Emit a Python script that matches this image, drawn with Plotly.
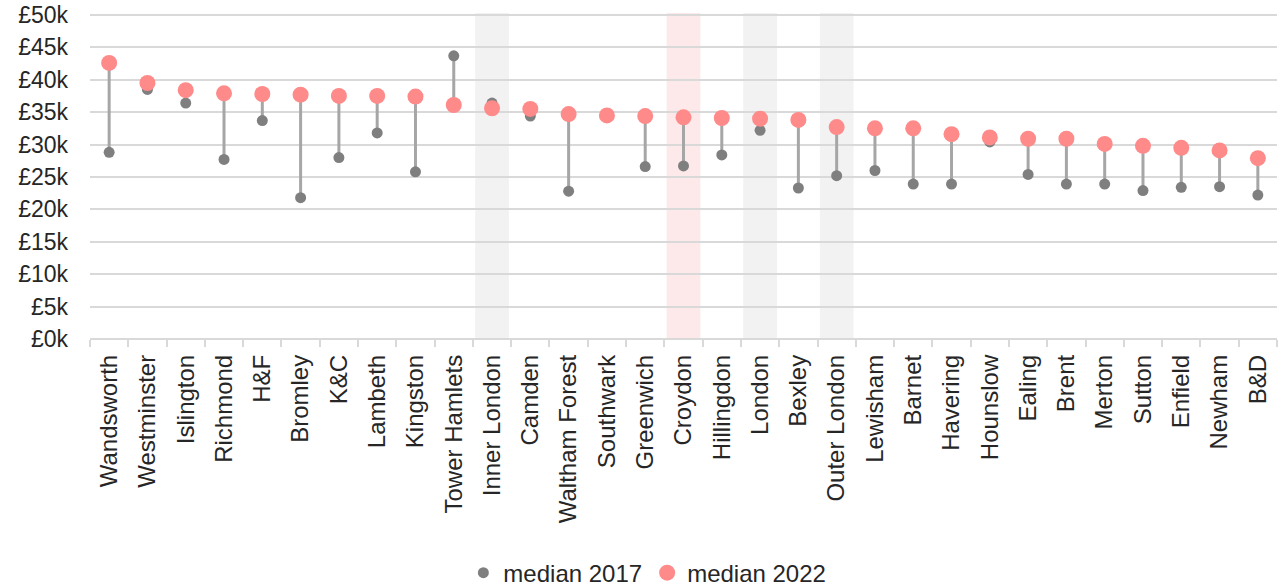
import plotly.graph_objects as go

# Boroughs and aggregates, ordered by 2022 median (in £ thousands)
areas = [
    "Wandsworth", "Westminster", "Islington", "Richmond", "H&F", "Bromley",
    "K&C", "Lambeth", "Kingston", "Tower Hamlets", "Inner London", "Camden",
    "Waltham Forest", "Southwark", "Greenwich", "Croydon", "Hillingdon",
    "London", "Bexley", "Outer London", "Lewisham", "Barnet", "Havering",
    "Hounslow", "Ealing", "Brent", "Merton", "Sutton", "Enfield", "Newham", "B&D",
]
median_2017 = [
    28.8, 38.5, 36.4, 27.7, 33.7, 21.8,
    28.0, 31.8, 25.8, 43.7, 36.4, 34.4,
    22.8, 34.4, 26.6, 26.7, 28.4,
    32.2, 23.3, 25.2, 26.0, 23.9, 23.9,
    30.4, 25.4, 23.9, 23.9, 22.9, 23.4, 23.5, 22.2,
]
median_2022 = [
    42.6, 39.5, 38.4, 37.9, 37.8, 37.7,
    37.5, 37.5, 37.4, 36.1, 35.6, 35.5,
    34.7, 34.5, 34.4, 34.2, 34.1,
    34.0, 33.8, 32.7, 32.5, 32.5, 31.6,
    31.1, 30.9, 30.9, 30.1, 29.8, 29.5, 29.1, 27.9,
]
grey_bands = ["Inner London", "London", "Outer London"]
pink_bands = ["Croydon"]
y_ticks = [0, 5, 10, 15, 20, 25, 30, 35, 40, 45, 50]

FONT = "Liberation Sans, Arial, sans-serif"
TEXT = "#262626"

# Connector segments between the two years
seg_x, seg_y = [], []
for a, v17, v22 in zip(areas, median_2017, median_2022):
    seg_x += [a, a, None]
    seg_y += [v17, v22, None]

fig = go.Figure()
fig.add_trace(go.Scatter(
    x=seg_x, y=seg_y, mode="lines",
    line=dict(color="#a6a6a6", width=3),
    showlegend=False, hoverinfo="skip",
))
fig.add_trace(go.Scatter(
    x=areas, y=median_2017, mode="markers", name="median 2017",
    marker=dict(color="#7f7f7f", size=11),
))
fig.add_trace(go.Scatter(
    x=areas, y=median_2022, mode="markers", name="median 2022",
    marker=dict(color="#ff8a8a", size=16),
))

# Highlight bands behind selected categories
shapes = []
for names, colour in ((grey_bands, "#f2f2f2"), (pink_bands, "#fde9e9")):
    for n in names:
        i = areas.index(n)
        shapes.append(dict(
            type="rect", xref="x", yref="y",
            x0=i - 0.44, x1=i + 0.44, y0=0, y1=50.3,
            fillcolor=colour, line=dict(width=0), layer="below",
        ))

fig.update_layout(
    width=1280, height=586,
    margin=dict(l=90, r=3, t=13, b=247),
    paper_bgcolor="white", plot_bgcolor="white",
    font=dict(family=FONT, size=24, color=TEXT),
    shapes=shapes,
    showlegend=True,
    legend=dict(
        orientation="h", xref="container", yref="container",
        x=0.362, xanchor="left", y=0.022, yanchor="middle",
        font=dict(size=24, color=TEXT), itemwidth=30,
        bgcolor="rgba(0,0,0,0)", borderwidth=0,
    ),
    xaxis=dict(
        type="category", categoryorder="array", categoryarray=areas,
        range=[-0.5, len(areas) - 0.5], automargin=False,
        tickangle=-90, tickson="boundaries", ticks="outside",
        ticklen=7, tickcolor="#d9d9d9", tickwidth=1.5,
        ticklabelstandoff=10,
        showgrid=False, showline=False, zeroline=False,
        tickfont=dict(size=24, color=TEXT),
    ),
    yaxis=dict(
        range=[0, 50.3], tickvals=y_ticks, automargin=False,
        ticktext=[f"£{v}k" for v in y_ticks],
        showgrid=True, gridcolor="#d9d9d9", gridwidth=1.8,
        zeroline=True, zerolinecolor="#d9d9d9", zerolinewidth=1.8,
        showline=False, ticks="", ticklabelstandoff=21,
        tickfont=dict(size=23, color=TEXT),
    ),
)

fig.write_html("out.html")
